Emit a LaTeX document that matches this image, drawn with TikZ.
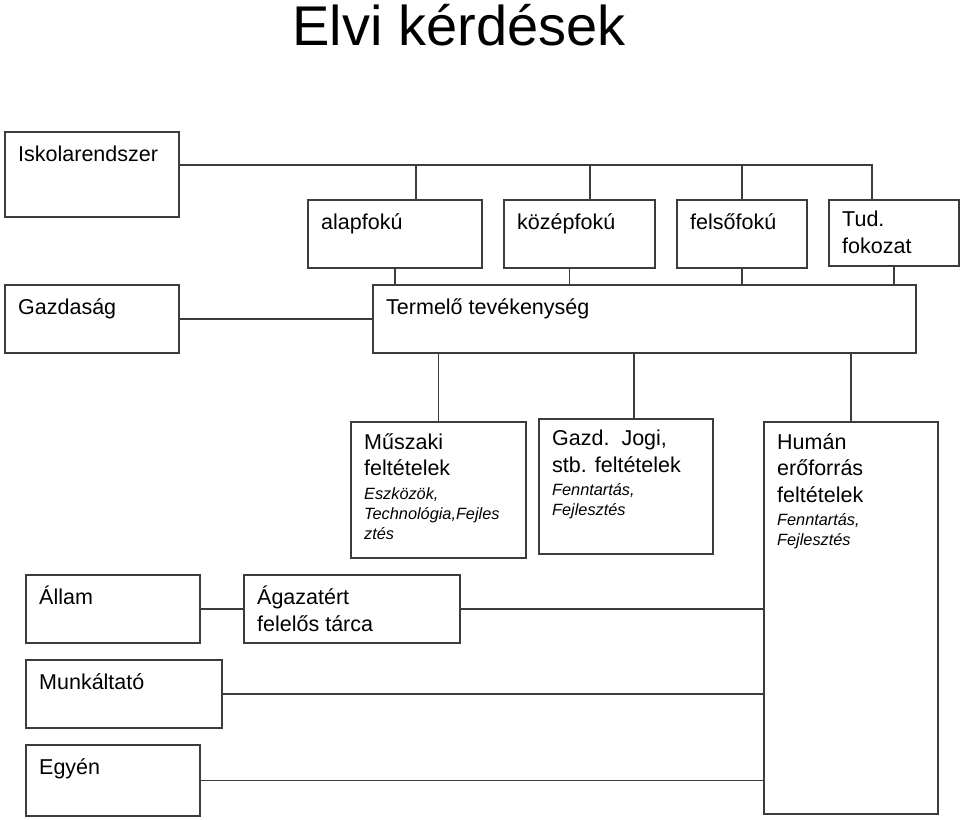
\documentclass[tikz,border=0pt]{standalone}
\usepackage{fontspec}
\setmainfont{Liberation Sans}
\newcommand{\bodyfont}{\fontsize{21.5}{26.5}\selectfont}
\newcommand{\sm}{\itshape\fontsize{16.3}{20}\selectfont}
\definecolor{linegray}{HTML}{3C3C3C}
\tikzset{
  box/.style={draw=linegray, line width=1.6pt, anchor=north west, inner sep=0pt},
  txt/.style={anchor=north west, inner xsep=14pt, inner ysep=12pt, align=left,
    font=\bodyfont, execute at begin node=\strut},
  link/.style={draw=linegray, line width=1.6pt}
}
\begin{document}
\begin{tikzpicture}[x=1pt, y=-1pt]
  \useasboundingbox (0,0) rectangle (960,819);

  \node[font=\fontsize{56}{60}\selectfont, anchor=base] (title) at (459,45) {Elvi kérdések};

  % oktatas
  \node[box, minimum width=174pt, minimum height=85pt, label={[txt]north west:Iskolarendszer}] (isk) at (4,131) {};
  \node[box, minimum width=174pt, minimum height=68pt, label={[txt]north west:alapfokú}] (alap) at (307,199) {};
  \node[box, minimum width=151pt, minimum height=68pt, label={[txt]north west:középfokú}] (kozep) at (503,199) {};
  \node[box, minimum width=130pt, minimum height=68pt, label={[txt]north west:felsőfokú}] (felso) at (676,199) {};
  \node[box, minimum width=130pt, minimum height=66pt, label={[txt]north west:Tud.\\fokozat}] (tud) at (828,199) {};

  % gazdasag
  \node[box, minimum width=174pt, minimum height=68pt, label={[txt]north west:Gazdaság}] (gazd) at (4,284) {};
  \node[box, minimum width=543pt, minimum height=68pt, label={[txt]north west:Termelő tevékenység}] (term) at (372,284) {};

  % feltetelek
  \node[box, minimum width=175pt, minimum height=136pt,
    label={[txt]north west:Műszaki\\feltételek\\[-3pt]\sm Eszközök,\\[-6.5pt]\sm Technológia,Fejles\\[-6.5pt]\sm ztés}] (musz) at (350,421) {};
  \node[box, minimum width=174pt, minimum height=135pt,
    label={[txt]north west:Gazd.\ \ Jogi,\\stb. feltételek\\[-3pt]\sm Fenntartás,\\[-6.5pt]\sm Fejlesztés}] (jogi) at (538,418) {};
  \node[box, minimum width=174pt, minimum height=392pt,
    label={[txt]north west:Humán\\erőforrás\\feltételek\\[-3pt]\sm Fenntartás,\\[-6.5pt]\sm Fejlesztés}] (human) at (763,421) {};

  % szereplok
  \node[box, minimum width=174pt, minimum height=68pt, label={[txt]north west:Állam}] (allam) at (25,574) {};
  \node[box, minimum width=216pt, minimum height=68pt, label={[txt]north west:Ágazatért\\felelős tárca}] (tarca) at (243,574) {};
  \node[box, minimum width=196pt, minimum height=68pt, label={[txt]north west:Munkáltató}] (munk) at (25,659) {};
  \node[box, minimum width=174pt, minimum height=71pt, label={[txt]north west:Egyén}] (egyen) at (25,744) {};

  % gyujtosin
  \coordinate (busR) at (872,165);
  \coordinate (b1) at (416,165);
  \coordinate (b2) at (590,165);
  \draw[link] (isk.east |- busR) -- (busR) -- (busR |- tud.north);
  \draw[link] (b1) -- (b1 |- alap.north);
  \draw[link] (b2) -- (b2 |- kozep.north);
  \draw[link] (felso.north |- busR) -- (felso.north);

  % fokozatok -> termeles
  \draw[link] (alap.south) -- (alap.south |- term.north);
  \draw[link] ([xshift=-10pt]kozep.south) -- ([xshift=-10pt]kozep.south |- term.north);
  \draw[link] (felso.south) -- (felso.south |- term.north);
  \draw[link] (tud.south) -- (tud.south |- term.north);
  \draw[link] (gazd.east) -- (gazd.east -| term.west);

  % termeles -> feltetelek
  \draw[link] (musz.north |- term.south) -- (musz.north);
  \draw[link] ([xshift=8pt]jogi.north |- term.south) -- ([xshift=8pt]jogi.north);
  \draw[link] (human.north |- term.south) -- (human.north);

  % szereplok -> human
  \draw[link] (allam.east) -- (tarca.west);
  \draw[link] (tarca.east) -- (tarca.east -| human.west);
  \draw[link] (munk.east) -- (munk.east -| human.west);
  \draw[link] (egyen.east) -- (egyen.east -| human.west);
\end{tikzpicture}
\end{document}
